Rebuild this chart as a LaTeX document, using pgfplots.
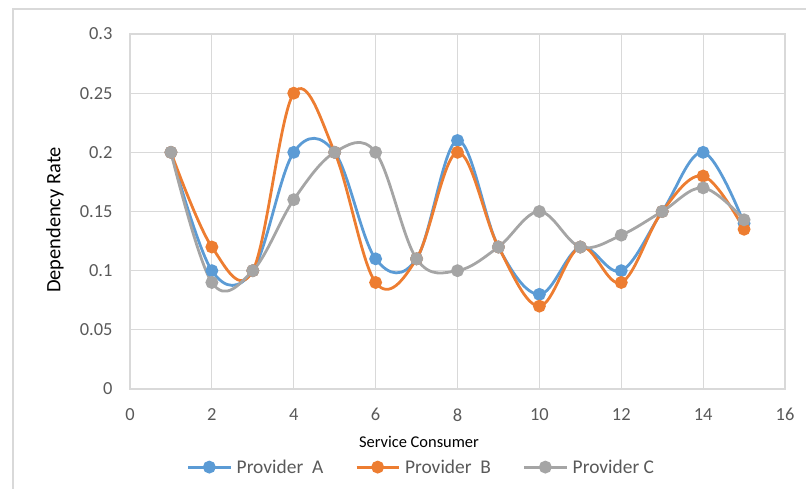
\documentclass[border=0pt]{standalone}
\usepackage{pgfplots}
\pgfplotsset{compat=1.18}
\usepackage{fontspec}
\setmainfont{Carlito}
\definecolor{cA}{HTML}{5B9BD5}
\definecolor{cB}{HTML}{ED7D31}
\definecolor{cC}{HTML}{A5A5A5}
\definecolor{gridc}{HTML}{D9D9D9}
\definecolor{tickc}{HTML}{595959}
\begin{document}
\begin{tikzpicture}
\useasboundingbox (-130bp,-100bp) rectangle (676bp,389bp);
\draw[gridc, line width=1.2bp] (-117bp,-100bp) -- (-117bp,380bp) -- (676bp,380bp);
\begin{axis}[
  scale only axis, width=655bp, height=355bp,
  xmin=0, xmax=16, ymin=0, ymax=0.3,
  xtick={0,2,4,6,8,10,12,14,16},
  ytick={0,0.05,0.1,0.15,0.2,0.25,0.3},
  yticklabels={0,0.05,0.1,0.15,0.2,0.25,0.3},
  grid=major, major grid style={gridc, line width=1.2bp},
  axis line style={gridc, line width=1.2bp},
  major tick length=0pt, tick style={draw=none},
  /pgf/number format/assume math mode=true,
  ticklabel style={font=\fontsize{18.5}{20}\selectfont, text=tickc},
  yticklabel style={xshift=-14bp},
  xticklabel style={yshift=-16bp},
  xlabel={Service Consumer},
  ylabel={Dependency Rate},
  xlabel style={at={(axis description cs:0.4412,-0.1493)}, anchor=center, font=\fontsize{16.5}{18}\selectfont},
  ylabel style={at={(axis description cs:-0.1145,0.476)}, anchor=center, font=\fontsize{20.5}{22}\selectfont},
  every axis plot/.append style={line width=2.8bp, smooth, tension=0.6, mark=*, mark size=5bp, mark options={solid}},
  legend columns=3,
  legend style={at={(axis description cs:0.445,-0.22)}, anchor=center, draw=none, fill=none,
    font=\fontsize{19.5}{21}\selectfont, text=tickc,
    /tikz/every even column/.append style={column sep=30bp},
    /tikz/every odd column/.append style={column sep=3bp}},
  legend image code/.code={\draw[mark repeat=2,mark phase=2,#1] plot coordinates {(0bp,0bp)(21bp,0bp)(42bp,0bp)};},
]
\addplot[cA] coordinates {(1,0.2)(2,0.1)(3,0.1)(4,0.2)(5,0.2)(6,0.11)(7,0.11)(8,0.21)(9,0.12)(10,0.08)(11,0.12)(12,0.1)(13,0.15)(14,0.2)(15,0.14)};
\addlegendentry{Provider~~A}
\addplot[cB] coordinates {(1,0.2)(2,0.12)(3,0.1)(4,0.25)(5,0.2)(6,0.09)(7,0.11)(8,0.2)(9,0.12)(10,0.07)(11,0.12)(12,0.09)(13,0.15)(14,0.18)(15,0.135)};
\addlegendentry{Provider~~B}
\addplot[cC] coordinates {(1,0.2)(2,0.09)(3,0.1)(4,0.16)(5,0.2)(6,0.2)(7,0.11)(8,0.1)(9,0.12)(10,0.15)(11,0.12)(12,0.13)(13,0.15)(14,0.17)(15,0.143)};
\addlegendentry{Provider C}
\end{axis}
\end{tikzpicture}
\end{document}
